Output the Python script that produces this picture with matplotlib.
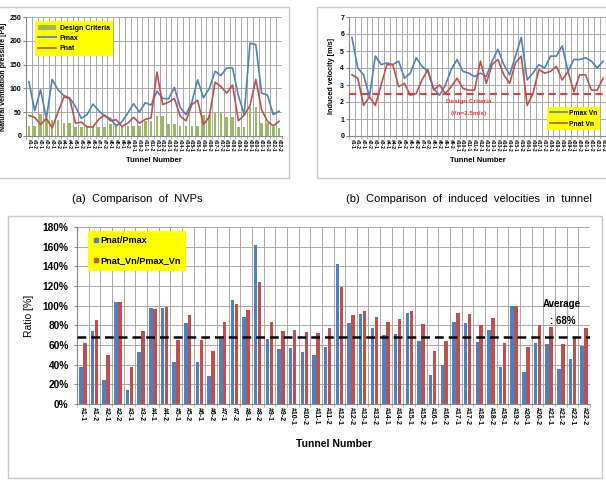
import matplotlib
matplotlib.use('Agg')
import matplotlib.pyplot as plt
from matplotlib.patches import Rectangle, Patch
from matplotlib.lines import Line2D
from matplotlib.ticker import FixedLocator, FuncFormatter

plt.rcParams['font.family'] = ['Liberation Sans', 'DejaVu Sans']

# ---------------- data ----------------
tunnels = ['#1-1', '#1-2', '#2-1', '#2-2', '#3-1', '#3-2', '#4-1', '#4-2', '#5-1', '#5-2',
           '#6-1', '#6-2', '#7-1', '#7-2', '#8-1', '#8-2', '#9-1', '#9-2', '#10-1', '#10-2',
           '#11-1', '#11-2', '#12-1', '#12-2', '#13-1', '#13-2', '#14-1', '#14-2', '#15-1', '#15-2',
           '#16-1', '#16-2', '#17-1', '#17-2', '#18-1', '#18-2', '#19-1', '#19-2', '#20-1', '#20-2',
           '#21-1', '#21-2', '#22-1', '#22-2']

design_criteria = [21, 21, 47, 35, 33, 33, 28, 28, 19, 19, 19, 19, 18, 18, 25, 25, 21, 21, 22, 22,
                   32, 32, 43, 43, 25, 25, 21, 21, 22, 22, 45, 45, 49, 49, 40, 40, 19, 19, 60, 60,
                   27, 27, 19, 17]
pmax = [114, 53, 97, 37, 119, 97, 85, 80, 62, 37, 45, 67, 53, 42, 37, 21, 30, 48, 68, 50,
        70, 65, 94, 79, 78, 102, 60, 45, 71, 118, 80, 100, 136, 127, 143, 143, 85, 45, 195, 192,
        90, 86, 45, 52]
pnat = [43, 39, 24, 37, 17, 50, 82, 79, 27, 29, 19, 19, 35, 44, 32, 34, 20, 27, 39, 27,
        35, 38, 134, 66, 71, 79, 42, 32, 66, 75, 24, 40, 113, 104, 90, 107, 32, 44, 64, 119,
        55, 31, 21, 31]

pmax_vn = [5.8, 4.0, 3.6, 2.3, 4.7, 4.2, 4.3, 4.2, 4.4, 3.4, 3.7, 4.6, 4.1, 3.8, 2.8, 2.4, 3.0, 3.9,
           4.5, 3.8, 3.7, 3.5, 3.7, 3.5, 4.4, 5.1, 4.2, 3.6, 4.7, 5.8, 3.3, 3.7, 4.2, 4.0, 4.7, 4.7,
           5.3, 3.8, 4.5, 4.5, 4.6, 4.4, 4.0, 4.4]
pnat_vn = [3.6, 3.4, 1.8, 2.3, 1.8, 3.0, 4.2, 4.2, 2.9, 3.1, 2.4, 2.5, 3.3, 3.9, 2.7, 3.0, 2.5, 2.9,
           3.4, 2.8, 2.7, 2.7, 4.4, 3.1, 4.2, 4.5, 3.6, 3.1, 4.3, 4.7, 1.8, 2.5, 3.9, 3.7, 3.8, 4.1,
           3.3, 3.8, 2.6, 3.6, 3.6, 2.7, 2.7, 3.4]
design_vn = 2.5

ratio_p = [38, 74, 24, 104, 14, 53, 98, 98, 43, 82, 43, 28, 66, 106, 88, 162, 66, 56, 57, 53,
           50, 58, 142, 82, 92, 77, 70, 71, 93, 64, 30, 40, 83, 82, 63, 75, 38, 100, 33, 62,
           61, 36, 46, 59]
ratio_vn = [62, 85, 50, 104, 38, 74, 97, 99, 65, 91, 65, 54, 83, 102, 96, 124, 83, 74, 75, 73,
            72, 77, 119, 91, 95, 88, 83, 86, 95, 81, 54, 64, 93, 92, 80, 87, 62, 100, 58, 80,
            78, 61, 67, 77]
average_ratio = 68

# ---------------- layout ----------------
W, H = 606, 480
fig = plt.figure(figsize=(W / 100, H / 100), dpi=100)
fig.patch.set_facecolor('white')

def rect(l, t, r, b):
    return [l / W, 1 - b / H, (r - l) / W, (b - t) / H]

def frame(l, t, r, b):
    fig.patches.append(Rectangle((l / W, 1 - b / H), (r - l) / W, (b - t) / H,
                                 transform=fig.transFigure, fill=False,
                                 edgecolor='#c8c8c8', linewidth=1.0, zorder=0))

BLUE = '#4f81bd'
RED = '#c0504d'
GREEN = '#9bbb59'
GRID = '#a8a8a8'
n = len(tunnels)
xs = list(range(n))

def style_cat_axis(ax, fs_tick):
    ax.set_xlim(-0.5, n - 0.5)
    ax.xaxis.set_major_locator(FixedLocator(xs))
    ax.set_xticklabels(tunnels, rotation=270, fontsize=fs_tick, fontweight='bold',
                       va='top', ha='center')
    ax.xaxis.set_minor_locator(FixedLocator([i - 0.5 for i in range(n + 1)]))
    ax.tick_params(axis='x', which='major', length=0, pad=2)
    ax.tick_params(axis='x', which='minor', length=2, color=GRID)
    ax.grid(True, axis='x', which='minor', color=GRID, linewidth=0.7)
    ax.grid(True, axis='y', which='major', color=GRID, linewidth=0.7)
    for s in ['top', 'right']:
        ax.spines[s].set_visible(False)
    for s in ['left', 'bottom']:
        ax.spines[s].set_color('#888888')
        ax.spines[s].set_linewidth(0.8)
    ax.tick_params(axis='y', length=2, color='#888888')
    ax.set_axisbelow(True)

# frames
frame(-2, 7, 289, 178)
frame(317, 7, 610, 178)
frame(8, 216, 602, 478)

# ---------------- (a) NVPs ----------------
ax1 = fig.add_axes(rect(26, 17, 282, 136))
style_cat_axis(ax1, 3.6)
ax1.bar(xs, design_criteria, width=0.45, color=GREEN, zorder=2)
ax1.plot(xs, pmax, color=BLUE, lw=1.2, zorder=3)
ax1.plot(xs, pnat, color=RED, lw=1.2, zorder=3)
ax1.set_ylim(0, 250)
ax1.set_yticks([0, 50, 100, 150, 200, 250])
ax1.tick_params(axis='y', labelsize=5, pad=1.5)
for t in ax1.get_yticklabels():
    t.set_fontweight('bold')
ax1.set_ylabel('Natural ventilation pressure [Pa]', fontsize=5, fontweight='bold', labelpad=1.5)
ax1.set_xlabel('Tunnel Number', fontsize=5.5, fontweight='bold', labelpad=4)
h1 = [Patch(facecolor=GREEN, edgecolor='none'),
      Line2D([], [], color=BLUE, lw=1.2), Line2D([], [], color=RED, lw=1.2)]
lg1 = ax1.legend(h1, ['Design Criteria', 'Pmax', 'Pnat'], loc='upper left',
                 bbox_to_anchor=(0.035, 0.965), borderaxespad=0,
                 prop={'weight': 'bold', 'size': 5}, facecolor='yellow', edgecolor='none',
                 framealpha=1, fancybox=False, handlelength=2.6, handleheight=0.8,
                 handletextpad=0.5, labelspacing=0.45, borderpad=0.5)
lg1.get_frame().set_linewidth(0)

# ---------------- (b) velocities ----------------
ax2 = fig.add_axes(rect(349, 17, 606, 136))
style_cat_axis(ax2, 3.6)
ax2.plot(xs, pmax_vn, color=BLUE, lw=1.2, zorder=3)
ax2.plot(xs, pnat_vn, color=RED, lw=1.2, zorder=3)
ax2.axhline(design_vn, color='#ff2020', lw=1.3, ls=(0, (4, 2.5)), zorder=4)
ax2.set_ylim(0, 7)
ax2.set_yticks(range(8))
ax2.tick_params(axis='y', labelsize=5, pad=1.5)
for t in ax2.get_yticklabels():
    t.set_fontweight('bold')
ax2.set_ylabel('Induced velocity [m/s]', fontsize=5.2, fontweight='bold', labelpad=4)
ax2.set_xlabel('Tunnel Number', fontsize=5.5, fontweight='bold', labelpad=4)
ax2.text(20, 2.0, 'Design Criteria', color='#ff3030', fontsize=4.6, fontweight='bold',
         ha='center', va='center', zorder=5)
ax2.text(20, 1.3, '(Vn=2.5m/s)', color='#ff3030', fontsize=4.6, fontweight='bold',
         ha='center', va='center', zorder=5)
h2 = [Line2D([], [], color=BLUE, lw=1.2), Line2D([], [], color=RED, lw=1.2)]
lg2 = ax2.legend(h2, ['Pmax Vn', 'Pnat Vn'], loc='upper left',
                 bbox_to_anchor=(0.772, 0.245), borderaxespad=0,
                 prop={'weight': 'bold', 'size': 4.8}, facecolor='yellow', edgecolor='none',
                 framealpha=1, fancybox=False, handlelength=2.6, handletextpad=0.3,
                 labelspacing=0.6, borderpad=0.4)
lg2.get_frame().set_linewidth(0)

# captions
fig.text(137 / W, 1 - 199 / H, '(a)  Comparison  of  NVPs', fontsize=8, ha='center', va='center')
fig.text(469 / W, 1 - 199 / H, '(b)  Comparison  of  induced  velocities  in  tunnel', fontsize=8,
         ha='center', va='center')

# ---------------- ratio chart ----------------
ax3 = fig.add_axes(rect(77, 227, 590, 404))
style_cat_axis(ax3, 5)
bw = 0.3
ax3.bar([x - bw / 2 - 0.02 for x in xs], ratio_p, width=bw, color=BLUE, zorder=2)
ax3.bar([x + bw / 2 + 0.02 for x in xs], ratio_vn, width=bw, color=RED, zorder=2)
ax3.axhline(average_ratio, color='black', lw=1.8, ls=(0, (3.5, 2)), zorder=4)
ax3.set_ylim(0, 180)
ax3.set_yticks(range(0, 181, 20))
ax3.yaxis.set_major_formatter(FuncFormatter(lambda v, p: f'{int(v)}%'))
ax3.tick_params(axis='y', labelsize=7.3, pad=4)
for t in ax3.get_yticklabels():
    t.set_fontweight('bold')
ax3.set_ylabel('Ratio [%]', fontsize=7.5, labelpad=6)
ax3.set_xlabel('Tunnel Number', fontsize=7.5, fontweight='bold', labelpad=10)
ax3.text(41.1, 101.5, 'Average', fontsize=7, fontweight='bold', ha='center', va='center', zorder=5)
ax3.text(41.2, 84, ': 68%', fontsize=7, fontweight='bold', ha='center', va='center', zorder=5)
h3 = [Line2D([], [], marker='s', color=BLUE, ls='none', markersize=3.2),
      Line2D([], [], marker='s', color=RED, ls='none', markersize=3.2)]
lg3 = ax3.legend(h3, ['Pnat/Pmax', 'Pnat_Vn/Pmax_Vn'], loc='upper left',
                 bbox_to_anchor=(0.021, 0.98), borderaxespad=0,
                 prop={'weight': 'bold', 'size': 6.6}, facecolor='yellow', edgecolor='none',
                 framealpha=1, fancybox=False, handlelength=0.5, handletextpad=0.25,
                 labelspacing=1.2, borderpad=0.6)
lg3.get_frame().set_linewidth(0)

fig.savefig('out.png', dpi=100, facecolor='white')
